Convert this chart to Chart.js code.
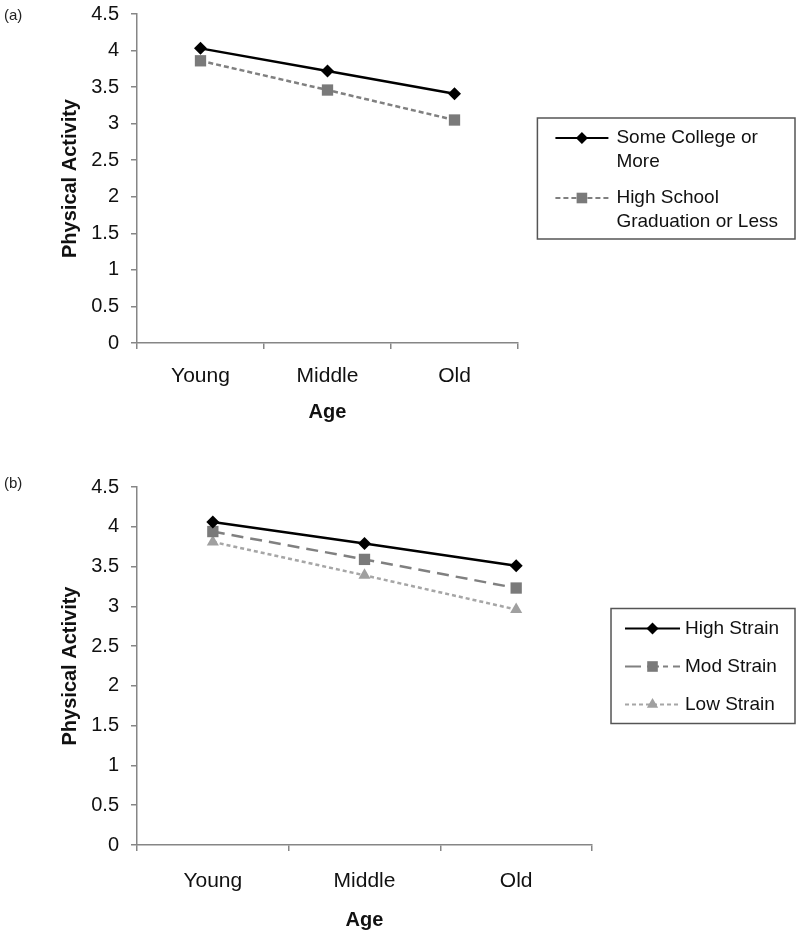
<!DOCTYPE html>
<html>
<head>
<meta charset="utf-8">
<script src="https://cdn.jsdelivr.net/npm/chart.js@4.4.1/dist/chart.umd.min.js"></script>
<style>
  body { margin: 0; background: #fff; }
  #page { position: relative; width: 800px; height: 936px; font-family: "Liberation Sans", Arial, sans-serif; }
  .panel { position: absolute; left: 0; width: 800px; }
  .tag { position: absolute; left: 4px; font-size: 15px; line-height: 18px; color: #222; }
</style>
</head>
<body>
<div id="page">
  <div class="panel" style="top:0;height:430px"><canvas id="chartA" width="800" height="430"></canvas></div>
  <div class="panel" style="top:470px;height:466px"><canvas id="chartB" width="800" height="466"></canvas></div>
  <div class="tag" style="top:6px">(a)</div>
  <div class="tag" style="top:474px">(b)</div>
</div>
<script>
// values
const AGE_GROUPS = ["Young", "Middle", "Old"];
const SOME_COLLEGE = [4.03, 3.72, 3.41];
const HIGH_SCHOOL = [3.86, 3.46, 3.05];
const HIGH_STRAIN = [4.06, 3.79, 3.51];
const MOD_STRAIN = [3.94, 3.59, 3.23];
const LOW_STRAIN = [3.81, 3.39, 2.96];
const Y_MIN = 0;
const Y_MAX = 4.5;
const Y_STEP = 0.5;
const LEGEND_A = [["Some College or", "More"], ["High School", "Graduation or Less"]];
const LEGEND_B = [["High Strain"], ["Mod Strain"], ["Low Strain"]];

const FONT = "'Liberation Sans', Arial, sans-serif";
const AXIS_GREY = "#868686";
const TEXT = "#111";

const blackDiamond = {
  borderColor: "#000", backgroundColor: "#000", borderWidth: 2.5,
  pointStyle: "rectRot", pointRadius: 6.5,
  pointBackgroundColor: "#000", pointBorderColor: "#000", pointBorderWidth: 0
};
const greySquare = {
  borderColor: "#808080", backgroundColor: "#7a7a7a", borderWidth: 2.5,
  pointStyle: "rect", pointRadius: 8,
  pointBackgroundColor: "#7a7a7a", pointBorderColor: "#7a7a7a", pointBorderWidth: 0
};
const lightTriangle = {
  borderColor: "#a6a6a6", backgroundColor: "#a0a0a0", borderWidth: 2.5, borderDash: [4, 3],
  pointStyle: "triangle", pointRadius: 7,
  pointBackgroundColor: "#a0a0a0", pointBorderColor: "#a0a0a0", pointBorderWidth: 0
};

function series(label, data, style, extra) {
  return Object.assign({ label: label, data: data, fill: false, tension: 0 }, style, extra || {});
}

// framed legend at the right, centred on the plot area
function boxLegend(items, o) {
  return {
    id: "boxLegend",
    afterDraw(chart) {
      const ctx = chart.ctx;
      const area = chart.chartArea;
      const sets = chart.data.datasets;
      ctx.save();
      ctx.font = o.fontSize + "px " + FONT;
      let textW = 0;
      let h = o.padTop + o.padBottom;
      items.forEach((lines, i) => {
        lines.forEach(t => { textW = Math.max(textW, ctx.measureText(t).width); });
        h += lines.length * o.lineHeight + (i > 0 ? o.itemGap : 0);
      });
      const w = o.padLeft + o.sample + o.gap + textW + o.padRight;
      const x0 = chart.width - o.right - w;
      const y0 = (area.top + area.bottom) / 2 - h / 2;
      ctx.strokeStyle = "#555";
      ctx.lineWidth = 1.5;
      ctx.strokeRect(x0, y0, w, h);
      let y = y0 + o.padTop;
      items.forEach((lines, i) => {
        const ds = sets[i];
        if (i > 0) y += o.itemGap;
        const cy = y + o.lineHeight / 2;
        const sx = x0 + o.padLeft;
        ctx.save();
        ctx.strokeStyle = ds.borderColor;
        ctx.lineWidth = 2;
        ctx.setLineDash(ds.legendDash || ds.borderDash || []);
        ctx.beginPath();
        ctx.moveTo(sx, cy);
        ctx.lineTo(sx + o.sample, cy);
        ctx.stroke();
        ctx.setLineDash([]);
        ctx.fillStyle = ds.pointBackgroundColor;
        ctx.strokeStyle = ds.pointBorderColor;
        Chart.helpers.drawPoint(ctx, { pointStyle: ds.pointStyle, radius: ds.pointRadius - 0.5, rotation: 0, borderWidth: 0 }, sx + o.sample / 2, cy);
        ctx.restore();
        ctx.fillStyle = TEXT;
        ctx.textBaseline = "middle";
        ctx.textAlign = "left";
        lines.forEach((t, k) => ctx.fillText(t, sx + o.sample + o.gap, cy + k * o.lineHeight));
        y += lines.length * o.lineHeight;
      });
      ctx.restore();
    }
  };
}

function makeScales(xTickPad, xHeight) {
  return {
    x: {
      type: "category",
      offset: true,
      grid: { offset: true, drawOnChartArea: false, drawTicks: true, tickLength: 6, color: AXIS_GREY, lineWidth: 1.5 },
      border: { display: true, color: AXIS_GREY, width: 1.5 },
      ticks: { color: TEXT, font: { family: FONT, size: 21 }, padding: xTickPad, maxRotation: 0 },
      title: { display: true, text: "Age", color: TEXT, font: { family: FONT, size: 20, weight: "bold" }, padding: 0 },
      afterFit: s => { s.height = xHeight; }
    },
    y: {
      min: Y_MIN,
      max: Y_MAX,
      grid: { drawOnChartArea: false, drawTicks: true, tickLength: 6, color: AXIS_GREY, lineWidth: 1.5 },
      border: { display: true, color: AXIS_GREY, width: 1.5 },
      ticks: {
        stepSize: Y_STEP, color: TEXT, font: { family: FONT, size: 20 }, padding: 12,
        callback: v => String(Number(v))
      },
      title: { display: true, text: "Physical Activity", color: TEXT, font: { family: FONT, size: 20, weight: "bold" }, padding: { top: 58, bottom: 0 } },
      afterFit: s => {
        s.width = 137;
        // the layout padding already leaves room for the end labels
        s.paddingTop = 0;
        s.paddingBottom = 0;
      }
    }
  };
}

const baseOptions = (pad, scales) => ({
  responsive: false,
  animation: false,
  layout: { padding: pad },
  plugins: { legend: { display: false }, tooltip: { enabled: false } },
  scales: scales
});

(function() {
  new Chart(document.getElementById("chartA").getContext("2d"), {
    type: "line",
    data: {
      labels: AGE_GROUPS,
      datasets: [
        series("Some College or More", SOME_COLLEGE, blackDiamond),
        series("High School Graduation or Less", HIGH_SCHOOL, greySquare, { borderDash: [5, 3] })
      ]
    },
    options: baseOptions({ top: 14, right: 282, bottom: 6, left: 0 }, makeScales(15, 81)),
    plugins: [boxLegend(LEGEND_A, {
      fontSize: 19, lineHeight: 24, padTop: 8, padBottom: 5, itemGap: 12,
      padLeft: 18, sample: 53, gap: 8, padRight: 17, right: 5
    })]
  });

  new Chart(document.getElementById("chartB").getContext("2d"), {
    type: "line",
    data: {
      labels: AGE_GROUPS,
      datasets: [
        series("High Strain", HIGH_STRAIN, blackDiamond),
        series("Mod Strain", MOD_STRAIN, greySquare, { borderDash: [12, 7], legendDash: [16, 6, 12, 4, 5, 5, 7, 10] }),
        series("Low Strain", LOW_STRAIN, lightTriangle)
      ]
    },
    options: baseOptions({ top: 17, right: 208, bottom: 4, left: 0 }, makeScales(18, 87)),
    plugins: [boxLegend(LEGEND_B, {
      fontSize: 19, lineHeight: 24, padTop: 8, padBottom: 7, itemGap: 14,
      padLeft: 14, sample: 55, gap: 5, padRight: 16, right: 5
    })]
  });
})();
</script>
</body>
</html>
